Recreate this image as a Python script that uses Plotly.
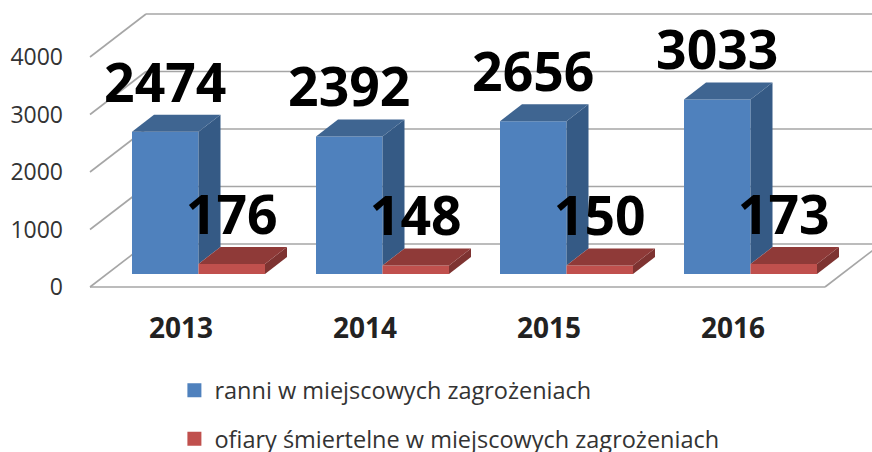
import plotly.graph_objects as go

years = ["2013", "2014", "2015", "2016"]
injured = [2474, 2392, 2656, 3033]
fatalities = [176, 148, 150, 173]
y_ticks = [0, 1000, 2000, 3000, 4000]
name_injured = "ranni w miejscowych zagrożeniach"
name_fatal = "ofiary śmiertelne w miejscowych zagrożeniach"

FONT = "Open Sans"
PX_PER_CAT = 184.0
PX_PER_UNIT = 0.0575
X0_PX = 132.0
def xv(px):
    return (px - X0_PX) / PX_PER_CAT
def dyv(px):
    return px / PX_PER_UNIT

BAR_W = 66.5 / PX_PER_CAT
DX = 22 / PX_PER_CAT
DY = dyv(17)
BASE = dyv(13)
WALL_DX = 56 / PX_PER_CAT
WALL_DY = dyv(43)
LEFT = xv(90)
FRONT_RIGHT = xv(825)
LABEL_OFFSET = dyv(43.5)
GRID = "#a6a6a6"

idx = list(range(len(years)))
fig = go.Figure()

# front faces
fig.add_trace(go.Bar(x=[i + BAR_W / 2 for i in idx], y=injured, base=BASE, width=BAR_W,
                     marker=dict(color="#4F81BD", line=dict(width=0)), showlegend=False,
                     name=name_injured))
fig.add_trace(go.Bar(x=[i + 1.5 * BAR_W for i in idx], y=fatalities, base=BASE, width=BAR_W,
                     marker=dict(color="#C0504D", line=dict(width=0)), showlegend=False,
                     name=name_fatal))

def poly(xs, ys, color):
    fig.add_trace(go.Scatter(x=xs, y=ys, mode="lines", fill="toself", fillcolor=color,
                             line=dict(width=0, color=color), hoverinfo="skip", showlegend=False))

for i, a, b in zip(idx, injured, fatalities):
    r = i + BAR_W
    t = BASE + a
    low = BASE + b
    poly([r, r + DX, r + DX, r], [t, t + DY, low + DY, low], "#355A85")
    poly([i, r, r + DX, i + DX], [t, t, t + DY, t + DY], "#3F6591")
    r2 = i + 2 * BAR_W
    t2 = BASE + b
    poly([r2, r2 + DX, r2 + DX, r2], [t2, t2 + DY, BASE + DY, BASE], "#7E3331")
    poly([r, r2, r2 + DX, r + DX], [t2, t2, t2 + DY, t2 + DY], "#8F3A38")

# data labels
label_font = dict(family=FONT, size=53.5, color="#000000", weight=700)
fig.add_trace(go.Scatter(x=[i + BAR_W / 2 for i in idx], y=[BASE + v + LABEL_OFFSET for v in injured],
                         mode="text", text=[str(v) for v in injured], textposition="middle center",
                         textfont=label_font, cliponaxis=False, hoverinfo="skip", showlegend=False))
fig.add_trace(go.Scatter(x=[i + 1.5 * BAR_W for i in idx], y=[BASE + v + LABEL_OFFSET for v in fatalities],
                         mode="text", text=[str(v) for v in fatalities], textposition="middle center",
                         textfont=label_font, cliponaxis=False, hoverinfo="skip", showlegend=False))

# legend entries
fig.add_trace(go.Scatter(x=[None], y=[None], mode="markers", name=name_injured, legendgroup="a",
                         marker=dict(symbol="square", size=14, color="#4F81BD")))
fig.add_trace(go.Scatter(x=[None], y=[None], mode="markers", name=name_fatal, legendgroup="b",
                         marker=dict(symbol="square", size=14, color="#C0504D")))

# 3D gridlines on the walls (below the traces)
shapes = []
for t in y_ticks:
    pts = [(LEFT, t), (LEFT + WALL_DX, t + WALL_DY), (xv(881), t + WALL_DY)]
    for (x0, y0), (x1, y1) in zip(pts, pts[1:]):
        shapes.append(dict(type="line", xref="x", yref="y", x0=x0, y0=y0, x1=x1, y1=y1,
                           layer="below", line=dict(color=GRID, width=1.6)))
shapes.append(dict(type="line", xref="x", yref="y", x0=LEFT, y0=0, x1=FRONT_RIGHT, y1=0,
                   layer="below", line=dict(color=GRID, width=1.6)))
shapes.append(dict(type="line", xref="x", yref="y", x0=FRONT_RIGHT, y0=0,
                   x1=FRONT_RIGHT + WALL_DX, y1=WALL_DY,
                   layer="below", line=dict(color=GRID, width=1.6)))

fig.update_layout(
    width=872, height=452, autosize=False,
    margin=dict(l=88, r=0, t=0, b=163, autoexpand=False),
    paper_bgcolor="white", plot_bgcolor="white",
    barmode="overlay", shapes=shapes,
    font=dict(family=FONT, color="#333333"),
    xaxis=dict(range=[xv(88), xv(872)], tickmode="array",
               tickvals=[i + xv(181) for i in idx], ticktext=years, tickangle=0,
               tickfont=dict(family=FONT, size=28, color="#222222", weight=700),
               ticks="", ticklabelstandoff=20, showgrid=False, zeroline=False, showline=False),
    yaxis=dict(range=[-2 / PX_PER_UNIT, 287 / PX_PER_UNIT], tickmode="array", tickvals=y_ticks,
               tickfont=dict(family=FONT, size=23, color="#333333"),
               ticks="", ticklabelstandoff=24, showgrid=False, zeroline=False, showline=False),
    legend=dict(xref="container", yref="container", x=0.2, y=0.185, xanchor="left", yanchor="top",
                font=dict(family=FONT, size=23.5, color="#333333"),
                tracegroupgap=15, traceorder="grouped", bgcolor="rgba(0,0,0,0)"),
)
fig.write_html("out.html", config={"displayModeBar": False},
               post_script="document.body.style.margin='0';document.documentElement.style.overflow='hidden';")
